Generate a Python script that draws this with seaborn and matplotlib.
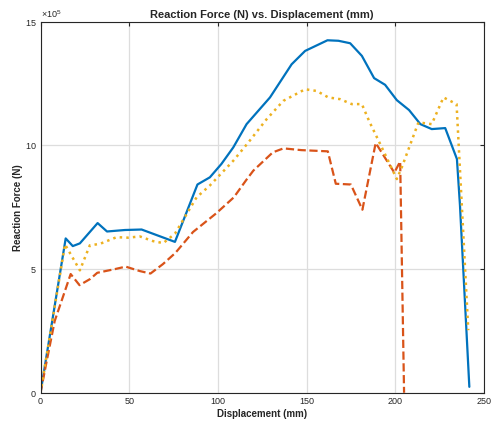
import numpy as np
import pandas as pd
import matplotlib
matplotlib.use("Agg")
import matplotlib.pyplot as plt
import seaborn as sns
from matplotlib.ticker import ScalarFormatter

# displacement (mm) / reaction force (N, x1e5) for the three runs
disp_a = [0, 14.2, 18.2, 22.2, 32.2, 37.5, 47.6, 57.0, 75.8, 88.5, 95.5, 102.0,
          108.7, 116.2, 129.4, 141.6, 149.2, 161.8, 168.0, 174.6, 181.2, 188.1,
          194.3, 200.9, 207.8, 214.2, 220.6, 228.2, 234.8, 236.5, 241.8]
force_a = [0, 6.24, 5.93, 6.04, 6.86, 6.52, 6.58, 6.60, 6.10, 8.42, 8.71, 9.25,
           9.92, 10.86, 11.94, 13.28, 13.82, 14.25, 14.23, 14.13, 13.62, 12.72,
           12.45, 11.83, 11.43, 10.86, 10.66, 10.70, 9.45, 7.60, 0.24]

disp_b = [0, 3, 8, 13.7, 17, 22, 28, 32, 42, 48, 56, 62, 69, 76, 86, 99, 109,
          116, 120, 131, 137, 147, 162, 166.5, 175, 181.5, 189, 199.5, 202.8, 205]
force_b = [0, 1.1, 2.9, 4.1, 4.8, 4.35, 4.6, 4.85, 5.0, 5.1, 4.92, 4.82, 5.2,
           5.65, 6.5, 7.25, 7.9, 8.6, 8.98, 9.72, 9.88, 9.81, 9.76, 8.45, 8.42,
           7.4, 10.1, 8.9, 9.35, 0.0]

disp_c = [0, 13.8, 22.2, 27.8, 33.5, 42.9, 49.4, 56.0, 63.5, 69.2, 75.8, 88.0,
          95.5, 108.7, 117.2, 127.5, 136.9, 149.2, 155.8, 162.3, 168.9, 175.5,
          181.2, 185.5, 191.5, 200.9, 203.7, 213.1, 220.6, 227.2, 234.6, 241.2]
force_c = [0, 6.0, 4.95, 5.96, 6.02, 6.29, 6.27, 6.32, 6.13, 6.05, 6.43, 7.9,
           8.38, 9.38, 10.12, 11.06, 11.8, 12.27, 12.2, 11.94, 11.87, 11.67,
           11.67, 10.95, 10.06, 8.64, 9.11, 10.93, 10.86, 11.94, 11.67, 2.53]

sns.set_style("white")
plt.rcParams['font.family'] = ['Liberation Sans', 'DejaVu Sans']
plt.rcParams['mathtext.fontset'] = 'custom'
plt.rcParams['mathtext.rm'] = 'Liberation Sans'

fig = plt.figure(figsize=(4.91, 4.26), dpi=100)
ax = fig.add_axes([0.0825, 0.078, 0.903, 0.871])

runs = [(disp_a, force_a, '#0072BD', '-', 1.6),
        (disp_b, force_b, '#D95319', '--', 1.6),
        (disp_c, force_c, '#EDB120', ':', 1.8)]
for d, f, c, ls, lw in runs:
    df = pd.DataFrame({'x': d, 'y': np.array(f) * 1e5})
    sns.lineplot(data=df, x='x', y='y', ax=ax, color=c, linestyle=ls,
                 linewidth=lw, estimator=None, sort=False)

ax.set_xlim(0, 250)
ax.set_ylim(0, 15e5)
ax.set_xticks([0, 50, 100, 150, 200, 250])
ax.set_yticks([0, 5e5, 10e5, 15e5])
fmt = ScalarFormatter(useMathText=True)
fmt.set_powerlimits((5, 5))
ax.yaxis.set_major_formatter(fmt)
ax.yaxis.get_offset_text().set_fontsize(6.5)
ax.yaxis.get_offset_text().set_color('#444444')

ax.grid(True, color='#dddddd', linewidth=0.9)
ax.set_axisbelow(True)
ax.tick_params(direction='in', length=3, width=0.8, labelsize=6.5,
               colors='#262626', top=True, right=True, pad=3)
for s in ax.spines.values():
    s.set_color('#262626')
    s.set_linewidth(0.8)

ax.set_xlabel('Displacement (mm)', fontsize=7, fontweight='bold', labelpad=2)
ax.set_ylabel('Reaction Force (N)', fontsize=7, fontweight='bold', labelpad=1)
ax.set_title('Reaction Force (N) vs. Displacement (mm)', fontsize=8,
             fontweight='bold', pad=3)

fig.savefig('out.png', dpi=100)
